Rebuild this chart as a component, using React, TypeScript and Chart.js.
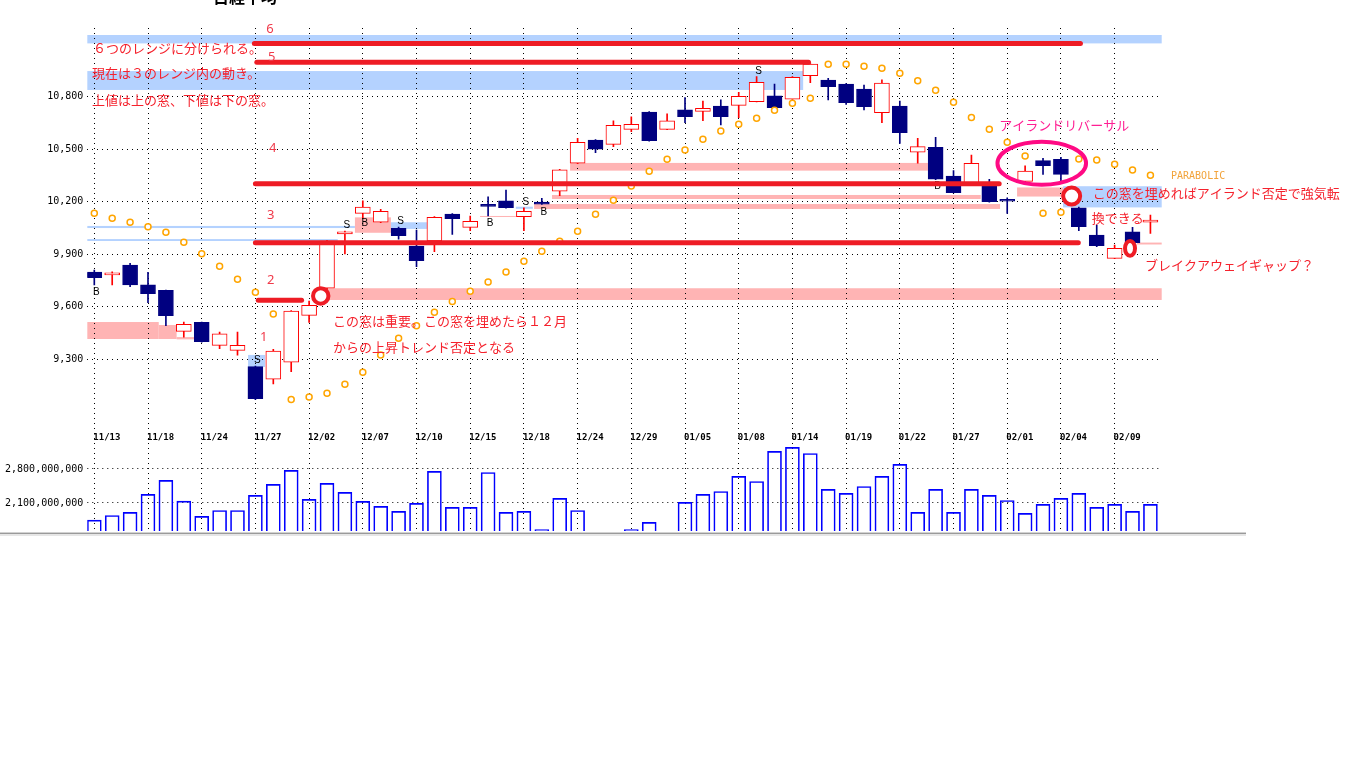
import React, { useEffect, useRef } from 'react';
import { Chart, registerables } from 'chart.js';

Chart.register(...registerables);

// ---- data ----
const dates = ['11/13','11/16','11/17','11/18','11/19','11/20','11/24','11/25','11/26','11/27',
  '11/30','12/01','12/02','12/03','12/04','12/07','12/08','12/09','12/10','12/11',
  '12/14','12/15','12/16','12/17','12/18','12/21','12/22','12/24','12/25','12/28',
  '12/29','12/30','01/04','01/05','01/06','01/07','01/08','01/12','01/13','01/14',
  '01/15','01/18','01/19','01/20','01/21','01/22','01/25','01/26','01/27','01/28',
  '01/29','02/01','02/02','02/03','02/04','02/05','02/08','02/09','02/10','02/12'];

const dateTicks = ['11/13','11/18','11/24','11/27','12/02','12/07','12/10','12/15','12/18','12/24',
  '12/29','01/05','01/08','01/14','01/19','01/22','01/27','02/01','02/04','02/09'];

const opens = [9799,9782,9839,9725,9694,9460,9511,9380,9351,9258,
  9186,9283,9551,9706,10017,10134,10083,10049,9947,9976,
  10130,10054,10186,10205,10115,10199,10260,10420,10553,10528,
  10614,10713,10614,10725,10717,10747,10751,10772,10805,10786,
  10921,10896,10873,10844,10709,10747,10483,10511,10347,10302,
  10306,10214,10317,10435,10443,10166,10010,9877,10029,10084];
const highs = [9810,9800,9849,9797,9695,9513,9513,9456,9456,9262,
  9357,9578,9633,9980,10033,10206,10157,10055,10039,10115,
  10132,10119,10229,10267,10165,10220,10385,10563,10555,10662,
  10686,10715,10702,10796,10776,10782,10826,10915,10873,10915,
  10990,10906,10875,10867,10897,10776,10563,10569,10378,10467,
  10329,10222,10405,10449,10454,10170,10067,9953,10054,10124];
const lows = [9725,9725,9715,9623,9492,9426,9398,9361,9323,9070,
  9159,9229,9511,9700,9902,10106,10081,9986,9829,9915,
  10014,10035,10119,10164,10035,10185,10235,10418,10481,10515,
  10600,10547,10612,10652,10663,10639,10681,10770,10736,10785,
  10880,10782,10757,10725,10652,10534,10420,10327,10250,10300,
  10198,10134,10302,10357,10306,10035,9943,9875,9964,10020];
const closes = [9766,9794,9725,9675,9549,9500,9401,9445,9380,9075,
  9347,9576,9609,9976,10029,10170,10146,10006,9863,10111,
  10103,10089,10174,10166,10146,10186,10382,10540,10500,10637,
  10643,10549,10662,10686,10734,10686,10803,10883,10738,10911,
  10987,10858,10766,10743,10878,10595,10515,10329,10252,10420,
  10200,10204,10376,10406,10357,10058,9949,9934,9966,10096];

const parabolic = [10134,10106,10083,10058,10026,9969,9903,9831,9757,9683,
  9559,9071,9085,9106,9157,9226,9325,9420,9492,9569,
  9631,9689,9742,9799,9860,9917,9974,10031,10129,10209,
  10290,10374,10443,10496,10557,10605,10643,10677,10723,10763,
  10791,10986,10986,10974,10963,10934,10892,10837,10769,10681,
  10614,10540,10462,10134,10140,10445,10439,10414,10382,10351];

const volumes = [1726000000,1823000000,1886000000,2260000000,2551000000,2121000000,1803000000,1927000000,1927000000,2239000000,
  2468000000,2759000000,2156000000,2489000000,2302000000,2115000000,2011000000,1907000000,2073000000,2738000000,
  1990000000,1990000000,2717000000,1886000000,1907000000,1532000000,2177000000,1927000000,null,null,
  1532000000,1678000000,null,2094000000,2260000000,2322000000,2634000000,2530000000,3154000000,3237000000,
  3112000000,2364000000,2281000000,2426000000,2634000000,2884000000,1886000000,2364000000,1886000000,2364000000,
  2239000000,2135000000,1865000000,2052000000,2177000000,2281000000,1990000000,2052000000,1907000000,2052000000];

const priceTicks = [9300, 9600, 9900, 10200, 10500, 10800];
const volumeTicks = [2100000000, 2800000000];

// windows (start index, end index, low price, high price)
const blueBands = [
  [-0.39, 59.63, 11105, 11153],
  [-0.39, 39.6, 10839, 10947],
  [-0.39, 14.56, 10050, 10062],
  [-0.39, 13.6, 9976, 9987],
  [16.57, 18.58, 10045, 10083],
  [23.55, 24.5, 10160, 10172],
  [8.59, 9.54, 9256, 9325],
  [54.12, 59.63, 10168, 10289],
];
const pinkBands = [
  [26.58, 46.57, 10378, 10422],
  [25.57, 49.52, 10216, 10239],
  [24.57, 50.6, 10159, 10187],
  [21.55, 23.55, 10113, 10119],
  [14.56, 16.57, 10023, 10111],
  [12.89, 59.63, 9639, 9706],
  [-0.39, 3.6, 9416, 9513],
  [3.6, 4.6, 9416, 9496],
  [4.6, 5.57, 9414, 9427],
  [51.55, 54.12, 10230, 10282],
  [58.25, 59.63, 9956, 9967],
];
// range lines (start index, end index, price)
const rangeLines = [
  [8.94, 55.09, 11105],
  [9.08, 39.9, 10998],
  [9.0, 50.55, 10303],
  [9.0, 54.97, 9966],
  [9.16, 11.58, 9637],
];
const rangeNumbers = ['6', '5', '4', '3', '2', '1'];
const rangeNumberIdx = [9.6, 9.7, 9.76, 9.65, 9.65, 9.26];
const rangeNumberPrice = [11184, 11027, 10506, 10125, 9749, 9426];

// gap circles (index, price)
const gapCircleIdx = [12.65, 54.6, 57.86];
const gapCirclePrice = [9662, 10233, 9934];
const islandIdx = 52.93;
const islandPrice = 10420;

const signalIdx = [0, 9, 14, 15, 17, 22, 24, 25, 37, 47];
const signalType = ['B', 'S', 'S', 'B', 'S', 'B', 'S', 'B', 'S', 'B'];
const signalPrice = [9683, 9292, 10067, 10077, 10086, 10077, 10198, 10143, 10947, 10286];

const noteText = [
  '６つのレンジに分けられる。',
  '現在は３のレンジ内の動き。',
  '上値は上の窓、下値は下の窓。',
  'この窓は重要。この窓を埋めたら１２月',
  'からの上昇トレンド否定となる',
  'アイランドリバーサル',
  'この窓を埋めればアイランド否定で強気転',
  '換できる',
  'ブレイクアウェイギャップ？',
];
const noteIdx = [-0.07, -0.13, -0.13, 13.34, 13.34, 50.56, 55.78, 55.72, 58.7];
const notePrice = [11079, 10936, 10782, 9519, 9372, 10639, 10249, 10106, 9839];
const noteKind = ['red', 'red', 'red', 'red', 'red', 'magenta', 'red', 'red', 'red'];

const RED_TEXT = '#F5222D';
const MAGENTA = '#FF1F93';

const overlayPlugin = {
  id: 'overlay',
  beforeDraw(chart: any) {
    const { ctx } = chart;
    const xs = chart.scales.x;
    const ys = chart.scales.y;
    ctx.save();
    const fillBand = (b: number[], color: string) => {
      const x0 = xs.getPixelForValue(b[0]);
      const x1 = xs.getPixelForValue(b[1]);
      const y0 = ys.getPixelForValue(b[3]);
      const y1 = ys.getPixelForValue(b[2]);
      ctx.fillStyle = color;
      ctx.fillRect(x0, y0, x1 - x0, y1 - y0);
    };
    blueBands.forEach((b) => fillBand(b, '#B4D2FF'));
    pinkBands.forEach((b) => fillBand(b, '#FFB4B4'));
    ctx.restore();
  },
  beforeDatasetsDraw(chart: any) {
    const { ctx, chartArea } = chart;
    const xs = chart.scales.x;
    const yv = chart.scales.yv;
    ctx.save();
    ctx.strokeStyle = '#000';
    ctx.lineWidth = 1;
    ctx.setLineDash([1, 4]);
    volumeTicks.forEach((v) => {
      const yy = Math.round(yv.getPixelForValue(v)) + 0.5;
      ctx.beginPath();
      ctx.moveTo(chartArea.left, yy);
      ctx.lineTo(chartArea.right, yy);
      ctx.stroke();
    });
    ctx.setLineDash([]);
    ctx.fillStyle = '#000';
    ctx.font = '10px "DejaVu Sans Mono"';
    ctx.textAlign = 'right';
    ctx.textBaseline = 'middle';
    volumeTicks.forEach((v) => {
      ctx.fillText(v.toLocaleString('en-US'), chartArea.left - 4, yv.getPixelForValue(v) + 1);
    });
    ctx.font = 'bold 9px "DejaVu Sans Mono"';
    ctx.textAlign = 'left';
    dateTicks.forEach((d) => {
      const i = dates.indexOf(d);
      ctx.fillText(d, xs.getPixelForValue(i) - 1, chartArea.bottom - 93);
    });
    ctx.restore();
  },
  afterDatasetsDraw(chart: any) {
    const { ctx } = chart;
    const xs = chart.scales.x;
    const ys = chart.scales.y;
    ctx.save();
    // signals
    ctx.fillStyle = '#000';
    ctx.font = '10px "Liberation Sans"';
    ctx.textAlign = 'center';
    ctx.textBaseline = 'middle';
    signalIdx.forEach((i, k) => {
      ctx.fillText(signalType[k], xs.getPixelForValue(i) + 2, ys.getPixelForValue(signalPrice[k]));
    });
    // range lines
    ctx.strokeStyle = '#EE1C25';
    ctx.lineWidth = 5;
    ctx.lineCap = 'round';
    rangeLines.forEach((l) => {
      const yy = ys.getPixelForValue(l[2]);
      ctx.beginPath();
      ctx.moveTo(xs.getPixelForValue(l[0]), yy);
      ctx.lineTo(xs.getPixelForValue(l[1]), yy);
      ctx.stroke();
    });
    // gap circles
    const radii = [[7.7, 7.7], [8.5, 8.5], [5, 7.4]];
    gapCircleIdx.forEach((i, k) => {
      const cx = xs.getPixelForValue(i);
      const cy = ys.getPixelForValue(gapCirclePrice[k]);
      ctx.beginPath();
      ctx.ellipse(cx, cy, radii[k][0], radii[k][1], 0, 0, Math.PI * 2);
      ctx.fillStyle = '#fff';
      ctx.fill();
      ctx.lineWidth = 4;
      ctx.strokeStyle = '#EE1C25';
      ctx.stroke();
    });
    // island ellipse
    ctx.beginPath();
    ctx.ellipse(xs.getPixelForValue(islandIdx), ys.getPixelForValue(islandPrice), 44.3, 21.5, 0, 0, Math.PI * 2);
    ctx.lineWidth = 4;
    ctx.strokeStyle = '#FF0A84';
    ctx.stroke();
    // range numbers
    ctx.fillStyle = '#F03A4A';
    ctx.font = '13px "Noto Sans"';
    ctx.textAlign = 'left';
    rangeNumbers.forEach((t, k) => {
      ctx.fillText(t, xs.getPixelForValue(rangeNumberIdx[k]), ys.getPixelForValue(rangeNumberPrice[k]));
    });
    // notes
    ctx.font = '13px "Noto Sans CJK JP"';
    noteText.forEach((t, k) => {
      ctx.fillStyle = noteKind[k] === 'magenta' ? MAGENTA : RED_TEXT;
      ctx.fillText(t, xs.getPixelForValue(noteIdx[k]), ys.getPixelForValue(notePrice[k]));
    });
    // indicator name
    ctx.fillStyle = '#F2A33A';
    ctx.font = '10px "DejaVu Sans Mono"';
    ctx.fillText('PARABOLIC', xs.getPixelForValue(60.15), ys.getPixelForValue(10344));
    ctx.restore();
  },
  afterDraw(chart: any) {
    const { ctx } = chart;
    ctx.save();
    ctx.fillStyle = '#000';
    ctx.font = 'bold 16px "Noto Sans CJK JP"';
    ctx.textAlign = 'left';
    ctx.textBaseline = 'alphabetic';
    ctx.fillText('日経平均', 213, 3);
    ctx.fillStyle = '#D2D2D2';
    ctx.fillRect(0, 532, 1246, 1);
    ctx.fillStyle = '#9A9A9A';
    ctx.fillRect(0, 533, 1246, 1);
    ctx.fillStyle = '#E6E6E6';
    ctx.fillRect(0, 534, 1246, 2);
    ctx.restore();
  },
};

export default function App() {
  const canvasRef = useRef<HTMLCanvasElement | null>(null);

  useEffect(() => {
    const canvas = canvasRef.current;
    if (!canvas) return;
    const isUp = (i: number) => closes[i] >= opens[i];
    const volMin = 1500000000;

    const chart = new Chart(canvas, {
      type: 'bar',
      data: {
        datasets: [
          {
            type: 'line',
            label: 'PARABOLIC',
            data: parabolic.map((v, i) => ({ x: i, y: v })),
            showLine: false,
            pointStyle: 'circle',
            pointRadius: 3,
            pointBorderWidth: 1.5,
            pointBorderColor: '#FFA500',
            pointBackgroundColor: '#FFFFFF',
            yAxisID: 'y',
            order: 1,
          } as any,
          {
            type: 'bar',
            label: 'body',
            data: dates.map((_, i) => ({ x: i, y: [opens[i], closes[i]] })),
            backgroundColor: dates.map((_, i) => (isUp(i) ? '#FFFFFF' : '#000080')),
            borderColor: dates.map((_, i) => (isUp(i) ? '#FF0000' : '#000080')),
            borderWidth: 1,
            borderSkipped: false,
            barThickness: 15,
            grouped: false,
            yAxisID: 'y',
            order: 2,
          } as any,
          {
            type: 'bar',
            label: 'wick',
            data: dates.map((_, i) => ({ x: i, y: [lows[i], highs[i]] })),
            backgroundColor: dates.map((_, i) => (isUp(i) ? '#FF0000' : '#000080')),
            borderWidth: 0,
            barThickness: 1,
            grouped: false,
            yAxisID: 'y',
            order: 3,
          } as any,
          {
            type: 'bar',
            label: 'volume',
            data: dates
              .map((_, i) => (volumes[i] == null ? null : { x: i, y: [volMin, volumes[i]] }))
              .filter((d) => d !== null),
            backgroundColor: 'rgba(0,0,0,0)',
            borderColor: '#0000FF',
            borderWidth: 1,
            borderSkipped: 'start',
            barThickness: 14,
            grouped: false,
            yAxisID: 'yv',
            order: 4,
          } as any,
        ],
      },
      options: {
        animation: false,
        responsive: false,
        maintainAspectRatio: false,
        devicePixelRatio: 1,
        events: [],
        layout: { padding: { left: 0, right: 204.3, top: 28, bottom: 237 } },
        plugins: {
          legend: { display: false },
          tooltip: { enabled: false },
          title: { display: false },
        },
        scales: {
          x: {
            type: 'linear',
            offset: false,
            min: -0.391,
            max: 59.63,
            grid: { color: '#000000', lineWidth: 1, drawTicks: false, offset: false },
            border: { display: false, dash: [1, 4] },
            ticks: { display: false },
            afterBuildTicks: (s: any) => {
              s.ticks = dateTicks.map((d) => ({ value: dates.indexOf(d) }));
            },
            afterFit: (s: any) => {
              s.height = 0;
            },
          },
          y: {
            type: 'linear',
            position: 'left',
            min: 8319,
            max: 11193,
            grid: { color: '#000000', lineWidth: 1, drawTicks: false },
            border: { display: false, dash: [1, 4] },
            ticks: {
              color: '#000000',
              padding: 4,
              font: { family: '"DejaVu Sans Mono"', size: 10 },
              callback: (v: any) => Number(v).toLocaleString('en-US'),
            },
            afterBuildTicks: (s: any) => {
              s.ticks = priceTicks.map((v) => ({ value: v }));
            },
            afterFit: (s: any) => {
              s.width = 87.3;
            },
          },
          yv: {
            type: 'linear',
            display: false,
            min: 1500000000,
            max: 11957000000,
          },
        },
      } as any,
      plugins: [overlayPlugin],
    });

    return () => {
      chart.destroy();
    };
  }, []);

  return (
    <div style={{ position: 'absolute', left: 0, top: 0, width: 1366, height: 768, background: '#fff' }}>
      <canvas ref={canvasRef} width={1366} height={768} style={{ display: 'block', width: 1366, height: 768 }} />
    </div>
  );
}
